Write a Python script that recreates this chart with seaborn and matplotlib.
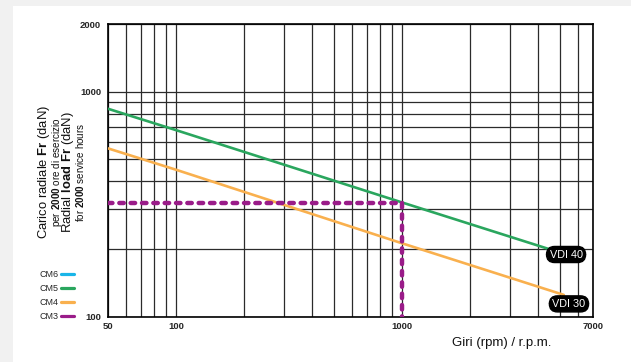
import numpy as np
import pandas as pd
import seaborn as sns
import matplotlib.pyplot as plt
from matplotlib.lines import Line2D
from matplotlib.patches import Rectangle
from matplotlib.ticker import FixedLocator, NullFormatter

# values (rpm vs radial load in daN)
cm5_rpm = [50, 100, 1000, 4600]
cm5_load = [840, 675, 322, 198]
cm4_rpm = [50, 100, 1000, 5200]
cm4_load = [560, 450, 212, 125]
cm3_h_rpm = [50, 1000]
cm3_h_load = [320, 320]
cm3_v_rpm = [1000, 1000]
cm3_v_load = [320, 100]

x_ticks = [50, 100, 1000, 7000]
y_ticks = [100, 1000, 2000]
x_grid = [60, 70, 80, 90, 200, 300, 400, 500, 600, 700, 800, 900, 2000, 3000, 4000, 5000, 6000]
y_grid = [200, 300, 400, 500, 600, 700, 800, 900]

legend_names = ["CM6", "CM5", "CM4", "CM3"]
colors = {"CM6": "#19b5e8", "CM5": "#2aa65e", "CM4": "#f9b04e", "CM3": "#9a1c89"}

sns.set_style("white")
plt.rcParams['font.family'] = ['Liberation Sans', 'DejaVu Sans']
plt.rcParams['mathtext.fontset'] = 'custom'
plt.rcParams['mathtext.rm'] = 'Liberation Sans'
plt.rcParams['mathtext.bf'] = 'Liberation Sans:bold'

fig = plt.figure(figsize=(6.31, 3.62), dpi=100, facecolor="#f1f1f1")
# white card behind everything
card = Rectangle((13 / 631, 0), 1, 1 - 6 / 362, transform=fig.transFigure,
                 facecolor="white", edgecolor="none", zorder=-10)
fig.patches.append(card)
ax = fig.add_axes([108 / 631, 1 - 316.7 / 362, (593 - 108) / 631, (316.7 - 24) / 362])
ax.set_facecolor("white")

df5 = pd.DataFrame({"rpm": cm5_rpm, "load": cm5_load})
df4 = pd.DataFrame({"rpm": cm4_rpm, "load": cm4_load})
sns.lineplot(data=df5, x="rpm", y="load", ax=ax, color=colors["CM5"], lw=1.9, zorder=3)
sns.lineplot(data=df4, x="rpm", y="load", ax=ax, color=colors["CM4"], lw=1.9, zorder=3)
for xs, ys in [(cm3_h_rpm, cm3_h_load), (cm3_v_rpm, cm3_v_load)]:
    ax.plot(xs, ys, color=colors["CM3"], lw=3.2, dashes=(1.0, 1.55),
            dash_capstyle="round", zorder=4)

ax.set_xscale("log")
ax.set_yscale("log")
ax.set_xlim(50, 7000)
ax.set_ylim(100, 2000)

ax.xaxis.set_major_locator(FixedLocator(x_ticks))
ax.yaxis.set_major_locator(FixedLocator(y_ticks))
ax.xaxis.set_minor_locator(FixedLocator(x_grid))
ax.yaxis.set_minor_locator(FixedLocator(y_grid))
ax.xaxis.set_minor_formatter(NullFormatter())
ax.yaxis.set_minor_formatter(NullFormatter())
ax.set_xticklabels([str(v) for v in x_ticks])
ax.set_yticklabels([str(v) for v in y_ticks])
ax.tick_params(which="both", length=0)
ax.tick_params(axis="x", pad=4)
ax.tick_params(axis="y", pad=5)
for lab in ax.get_xticklabels() + ax.get_yticklabels():
    lab.set_fontsize(6.8)
    lab.set_fontweight("bold")
ax.grid(which="both", color="#2b2b2b", lw=0.9)
ax.set_axisbelow(True)
for s in ax.spines.values():
    s.set_color("black")
    s.set_linewidth(1.2)
ax.set_xlabel("")
ax.set_ylabel("")

# VDI labels
for txt, xv, yv in [("VDI 40", 5320, 189), ("VDI 30", 5480, 114)]:
    ax.text(xv, yv, txt, color="white", fontsize=7.8, ha="center", va="center", zorder=6,
            bbox=dict(boxstyle="round,pad=0.28,rounding_size=0.75", fc="black", ec="black"))

# axis titles
ylines = [
    (r"Carico radiale $\mathbf{Fr}$ (daN)", 44, 9.4),
    (r"per $\mathbf{2000}$ ore di esercizio", 56.5, 7.1),
    (r"Radial $\mathbf{load\ Fr}$ (daN)", 68.5, 9.4),
    (r"for $\mathbf{2000}$ service hours", 80.5, 7.1),
]
for txt, xp, fs in ylines:
    fig.text(xp / 631, 1 - 172 / 362, txt, rotation=90, ha="center", va="center",
             fontsize=fs, color="#111111")
fig.text(502 / 631, 1 - 343 / 362, "Giri (rpm) / r.p.m.", ha="center", va="center",
         fontsize=9.5, color="#111111")

handles = [Line2D([], [], color=colors[n], lw=2.3) for n in legend_names]
fig.legend(handles, legend_names, loc="upper right", bbox_to_anchor=(74 / 631, 1 - 270 / 362),
           frameon=False, markerfirst=False, fontsize=6.5, handlelength=1.4,
           handletextpad=0.3, labelspacing=0.55, borderpad=0, borderaxespad=0)

fig.savefig("out.png", dpi=100, facecolor=fig.get_facecolor())
